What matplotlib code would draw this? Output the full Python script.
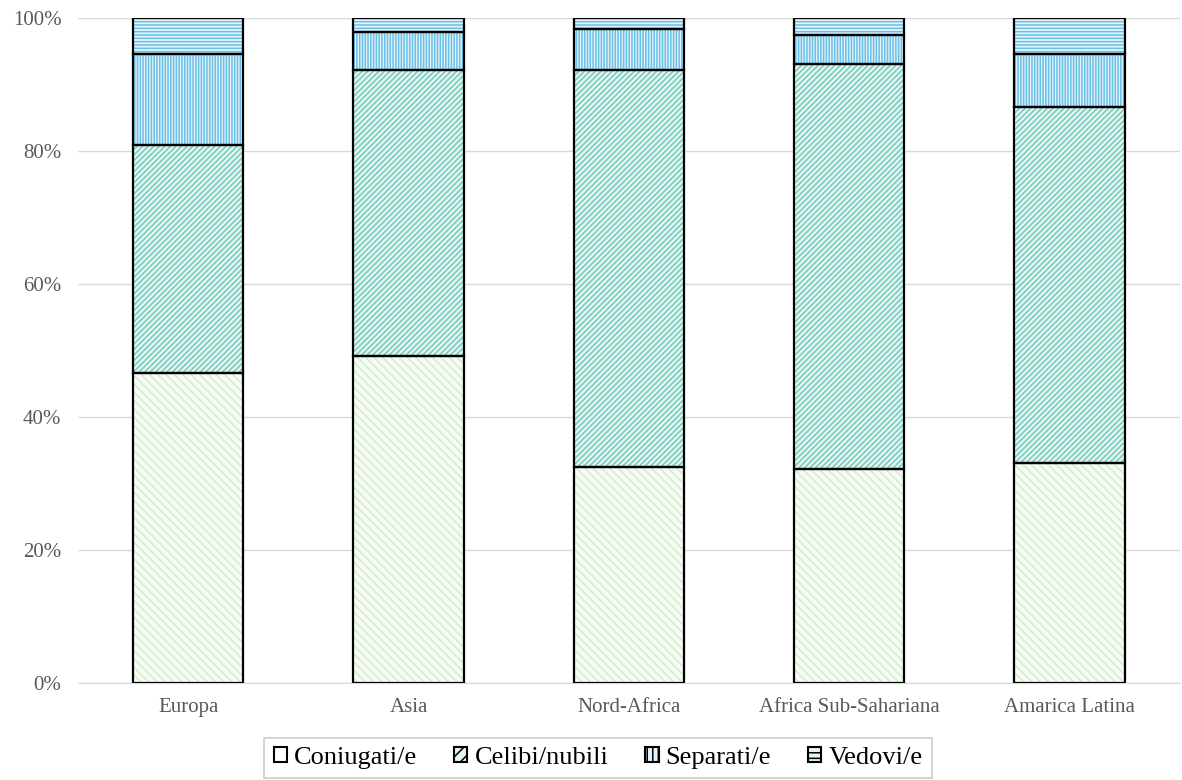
import matplotlib
matplotlib.use("Agg")
import matplotlib.pyplot as plt
from matplotlib.patches import Patch
import matplotlib.ticker as ticker

# Stacked shares (%) per area
categories = ["Europa", "Asia", "Nord-Africa", "Africa Sub-Sahariana", "Amarica Latina"]
coniugati = [46.5, 49.2, 32.4, 32.1, 33.0]
celibi = [34.4, 43.0, 59.8, 61.0, 53.6]
separati = [13.7, 5.7, 6.1, 4.3, 8.0]
vedovi = [5.4, 2.1, 1.7, 2.6, 5.4]
series_names = ["Coniugati/e", "Celibi/nubili", "Separati/e", "Vedovi/e"]

styles = [
    # facecolor, hatch colour, hatch
    ("#f6fbf3", "#d3ecd0", "\\\\\\\\"),
    ("#e4f5f1", "#72cbbd", "//////"),
    ("#e2f3fb", "#6cc0e6", "||||||"),
    ("#e2f3fb", "#6cc0e6", "-----"),
]

plt.rcParams["hatch.linewidth"] = 1.1

fig, ax = plt.subplots(figsize=(11.82, 7.8), dpi=100)
fig.subplots_adjust(left=0.066, right=0.998, top=0.977, bottom=0.125)

x = range(len(categories))
bottom = [0.0] * len(categories)
for vals, (fc, hc, hatch) in zip([coniugati, celibi, separati, vedovi], styles):
    ax.bar(x, vals, width=0.5, bottom=bottom, color=fc, edgecolor=hc,
           hatch=hatch, linewidth=0, zorder=2)
    ax.bar(x, vals, width=0.5, bottom=bottom, fill=False, edgecolor="black",
           linewidth=1.6, zorder=3)
    bottom = [b + v for b, v in zip(bottom, vals)]

ax.set_xlim(-0.5, len(categories) - 0.5)
ax.set_ylim(0, 100)
ax.yaxis.set_major_locator(ticker.MultipleLocator(20))
ax.yaxis.set_major_formatter(ticker.FuncFormatter(lambda v, p: f"{v:.0f}%"))
ax.set_xticks(list(x))
ax.set_xticklabels(categories)
for lab in ax.get_xticklabels() + ax.get_yticklabels():
    lab.set_fontfamily("Liberation Serif")
    lab.set_fontsize(15)
    lab.set_color("#595959")
ax.tick_params(axis="x", length=0, pad=11)
ax.tick_params(axis="y", length=0, pad=12)
ax.grid(axis="y", color="#d9d9d9", linewidth=1, zorder=0)
for s in ["top", "right", "left"]:
    ax.spines[s].set_visible(False)
ax.spines["bottom"].set_color("#d9d9d9")

handles = [Patch(facecolor=fc if i else "white", edgecolor="black",
                 hatch=h[:3] if i else None, linewidth=1.5, label=n)
           for i, ((fc, hc, h), n) in enumerate(zip(styles, series_names))]
leg = fig.legend(handles=handles, loc="lower center", ncol=4,
                 bbox_to_anchor=(0.506, 0.002), borderaxespad=0,
                 frameon=True, fancybox=False,
                 edgecolor="#bfbfbf", handlelength=0.5, handleheight=0.5,
                 handletextpad=0.27, columnspacing=1.4, borderpad=0.35,
                 prop={"family": "Liberation Serif", "size": 19})
leg.get_frame().set_linewidth(1.2)

plt.savefig("out.png", dpi=100)
